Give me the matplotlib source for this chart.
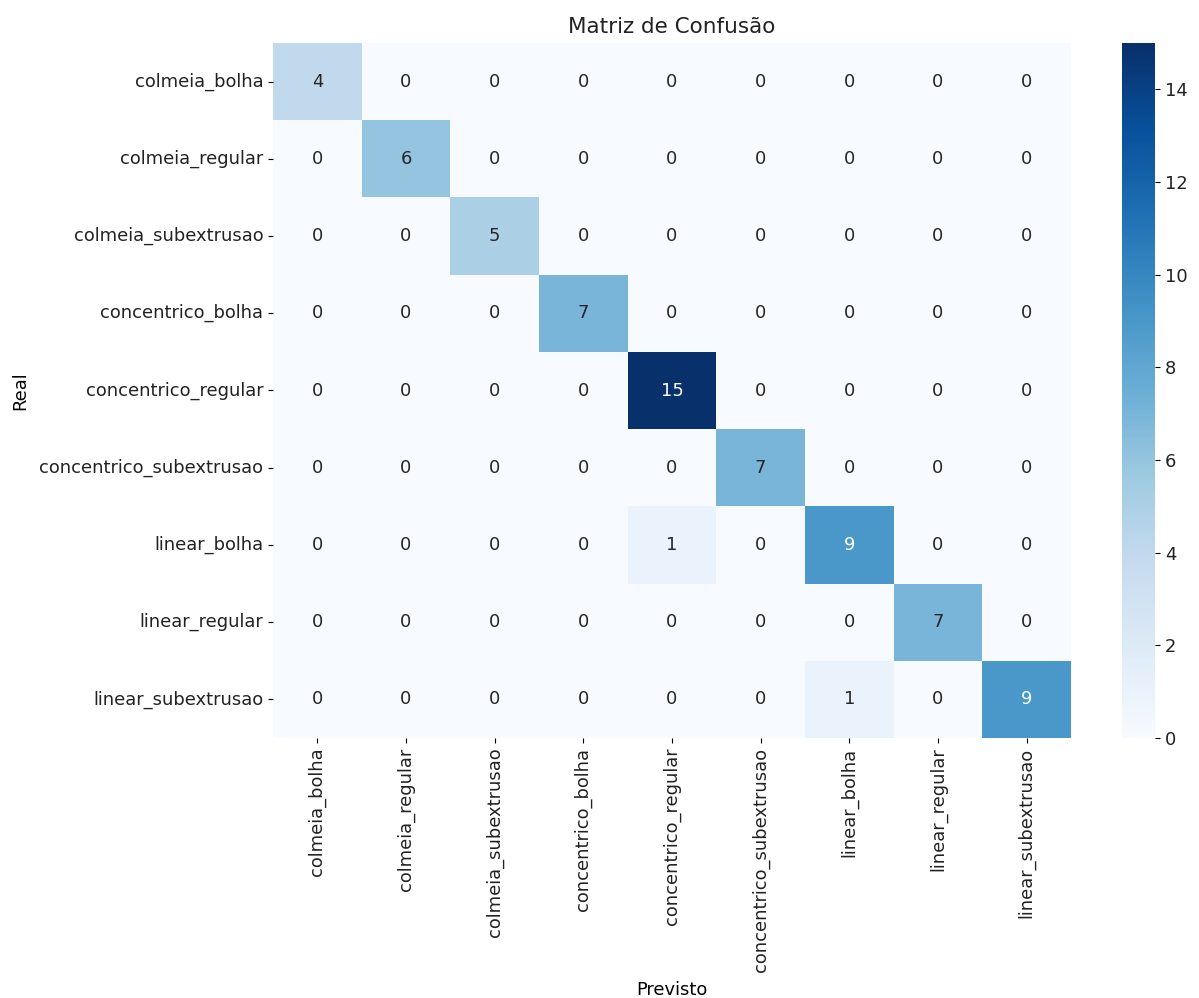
import numpy as np
import matplotlib
matplotlib.use('Agg')
import matplotlib.pyplot as plt
import seaborn as sns

classes = ['colmeia_bolha', 'colmeia_regular', 'colmeia_subextrusao',
           'concentrico_bolha', 'concentrico_regular', 'concentrico_subextrusao',
           'linear_bolha', 'linear_regular', 'linear_subextrusao']

diagonal = [4, 6, 5, 7, 15, 7, 9, 7, 9]
# (real, previsto, contagem)
off_diagonal = [(6, 4, 1), (8, 6, 1)]

cm = np.diag(diagonal)
for r, c, v in off_diagonal:
    cm[r, c] = v

plt.rcParams['font.size'] = 12.9
plt.rcParams['text.color'] = '#222222'
plt.rcParams['xtick.labelcolor'] = '#222222'
plt.rcParams['ytick.labelcolor'] = '#222222'
fig = plt.figure(figsize=(11.99, 9.98), dpi=100)
ax = fig.add_axes([273 / 1199, 1 - 738 / 998, (1071 - 273) / 1199, (738 - 43) / 998])
cax = fig.add_axes([1122 / 1199, 1 - 738 / 998, 33 / 1199, (738 - 43) / 998])

sns.heatmap(cm, annot=True, fmt='d', cmap='Blues', ax=ax, cbar_ax=cax,
            xticklabels=classes, yticklabels=classes, annot_kws={'size': 12.9})
ax.set_title('Matriz de Confusão', fontsize=15.5, pad=7)
ax.set_xlabel('Previsto', labelpad=7)
ax.set_ylabel('Real', labelpad=7)
ax.tick_params(axis='x', rotation=90)
ax.tick_params(axis='y', rotation=0)

fig.savefig('out.png', dpi=100)
